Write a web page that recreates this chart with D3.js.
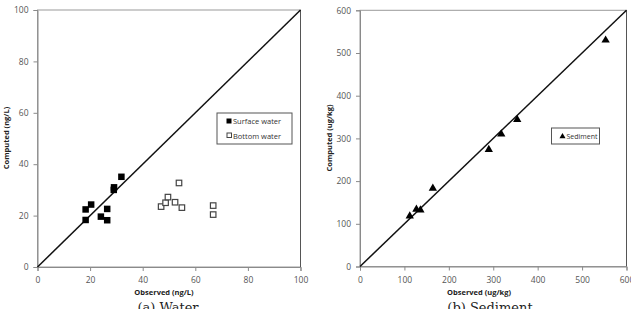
<!DOCTYPE html>
<html>
<head>
<meta charset="utf-8">
<script src="https://cdn.jsdelivr.net/npm/d3@7"></script>
<style>
  body { margin: 0; background: #fff; }
  svg { display: block; }
</style>
</head>
<body>
<svg id="chart" width="631" height="309"></svg>
<script>
// observed vs computed, water (ng/L) and sediment (ug/kg)

const waterTicks = [0, 20, 40, 60, 80, 100];
const sedTicks = [0, 100, 200, 300, 400, 500, 600];

const surfaceObs = [18.3, 18.3, 20.4, 24.1, 26.5, 26.5, 29.0, 29.1, 31.9];
const surfaceComp = [22.4, 18.3, 24.3, 19.6, 22.6, 18.2, 30.0, 31.0, 35.1];

const bottomObs = [47.0, 48.7, 49.6, 52.3, 53.8, 54.9, 66.8, 66.8];
const bottomComp = [23.5, 25.0, 27.2, 25.2, 32.7, 23.1, 23.9, 20.4];

const sedObs = [112, 127, 136, 164, 290, 318, 354, 553];
const sedComp = [118, 134, 132, 183, 274, 310, 344, 530];

const svg = d3.select("#chart");
const grey = "#8a8a8a";
const tickFont = "'Open Sans', sans-serif";

function drawPanel(opts){
        const x = d3.scaleLinear().domain(opts.domain).range([opts.x0, opts.x1]);
        const y = d3.scaleLinear().domain(opts.domain).range([opts.y0, opts.y1]);

        // plot area border
        svg.append("rect")
                .attr("x", opts.x0)
                .attr("y", opts.y1)
                .attr("width", opts.x1 - opts.x0)
                .attr("height", opts.y0 - opts.y1)
                .attr("fill", "none")
                .attr("stroke", "#9a9a9a")
                .attr("stroke-width", 1);
        svg.append("line")
                .attr("x1", opts.x1).attr("y1", opts.y1)
                .attr("x2", opts.x1).attr("y2", opts.y0)
                .attr("stroke", "#555").attr("stroke-width", 1);

        const xAxis = svg.append("g")
                .attr("transform", "translate(0," + opts.y0 + ")")
                .call(d3.axisBottom(x).tickValues(opts.ticks).tickSize(4).tickPadding(6));
        const yAxis = svg.append("g")
                .attr("transform", "translate(" + opts.x0 + ",0)")
                .call(d3.axisLeft(y).tickValues(opts.ticks).tickSize(4).tickPadding(5));
        [xAxis, yAxis].forEach(function(a){
                a.select(".domain").attr("stroke", grey);
                a.selectAll(".tick line").attr("stroke", grey);
                a.selectAll(".tick text")
                        .attr("fill", "#555")
                        .attr("font-family", tickFont)
                        .attr("font-size", "8.5px");
        });

        // 1:1 line
        svg.append("line")
                .attr("x1", x(opts.domain[0])).attr("y1", y(opts.domain[0]))
                .attr("x2", x(opts.domain[1])).attr("y2", y(opts.domain[1]))
                .attr("stroke", "#111").attr("stroke-width", 1.5);

        svg.append("text")
                .attr("x", opts.xTitleX)
                .attr("y", 295)
                .attr("text-anchor", "middle")
                .attr("font-family", tickFont)
                .attr("font-weight", "bold")
                .attr("font-size", "7.5px")
                .attr("fill", "#222")
                .text(opts.xTitle);

        svg.append("text")
                .attr("transform", "translate(" + opts.yTitleX + ",138) rotate(-90)")
                .attr("text-anchor", "middle")
                .attr("font-family", tickFont)
                .attr("font-weight", "bold")
                .attr("font-size", "7.5px")
                .attr("fill", "#222")
                .text(opts.yTitle);

        svg.append("text")
                .attr("x", opts.capX)
                .attr("y", 312)
                .attr("text-anchor", "middle")
                .attr("font-family", "'DejaVu Serif', serif")
                .attr("font-size", "13px")
                .attr("fill", "#222")
                .text(opts.caption);

        return {x: x, y: y};
}

// (a) Water
const w = drawPanel({
        domain: [0, 100], ticks: waterTicks,
        x0: 37.5, x1: 300.5, y0: 267, y1: 10,
        xTitle: "Observed (ng/L)", xTitleX: 164,
        yTitle: "Computed (ng/L)", yTitleX: 9,
        caption: "(a)  Water", capX: 168
});

const sq = 6.5;
svg.append("g").selectAll("rect")
        .data(d3.zip(surfaceObs, surfaceComp))
        .join("rect")
        .attr("x", d => w.x(d[0]) - sq / 2)
        .attr("y", d => w.y(d[1]) - sq / 2)
        .attr("width", sq).attr("height", sq)
        .attr("fill", "#000");

svg.append("g").selectAll("rect")
        .data(d3.zip(bottomObs, bottomComp))
        .join("rect")
        .attr("x", d => w.x(d[0]) - (sq - 1) / 2)
        .attr("y", d => w.y(d[1]) - (sq - 1) / 2)
        .attr("width", sq - 1).attr("height", sq - 1)
        .attr("fill", "#fff")
        .attr("stroke", "#444").attr("stroke-width", 1.2);

// legend water
svg.append("rect")
        .attr("x", 217).attr("y", 113).attr("width", 75).attr("height", 31)
        .attr("fill", "#fff").attr("stroke", "#555").attr("stroke-width", 1);
svg.append("rect").attr("x", 226.5).attr("y", 118.5).attr("width", 5).attr("height", 5).attr("fill", "#000");
svg.append("rect").attr("x", 227).attr("y", 133).attr("width", 4.5).attr("height", 4.5)
        .attr("fill", "#fff").attr("stroke", "#444").attr("stroke-width", 1);
svg.append("text").attr("x", 233).attr("y", 124).attr("font-family", tickFont)
        .attr("font-size", "7.5px").attr("fill", "#333").text("Surface water");
svg.append("text").attr("x", 233).attr("y", 138.5).attr("font-family", tickFont)
        .attr("font-size", "7.5px").attr("fill", "#333").text("Bottom water");

// (b) Sediment
const s = drawPanel({
        domain: [0, 600], ticks: sedTicks,
        x0: 360, x1: 626.5, y0: 266.5, y1: 10.3,
        xTitle: "Observed (ug/kg)", xTitleX: 479,
        yTitle: "Computed (ug/kg)", yTitleX: 332,
        caption: "(b)  Sediment", capX: 490
});

const tri = d3.symbol().type(d3.symbolTriangle).size(30);
svg.append("g").selectAll("path")
        .data(d3.zip(sedObs, sedComp))
        .join("path")
        .attr("transform", d => "translate(" + s.x(d[0]) + "," + s.y(d[1]) + ")")
        .attr("d", tri)
        .attr("fill", "#000");

// legend sediment
svg.append("rect")
        .attr("x", 551.5).attr("y", 128).attr("width", 48).attr("height", 16)
        .attr("fill", "#fff").attr("stroke", "#555").attr("stroke-width", 1);
svg.append("path")
        .attr("transform", "translate(562.5,136.5)")
        .attr("d", d3.symbol().type(d3.symbolTriangle).size(16))
        .attr("fill", "#000");
svg.append("text").attr("x", 566.5).attr("y", 139).attr("font-family", tickFont)
        .attr("font-size", "7px").attr("fill", "#333").text("Sediment");
</script>
</body>
</html>
